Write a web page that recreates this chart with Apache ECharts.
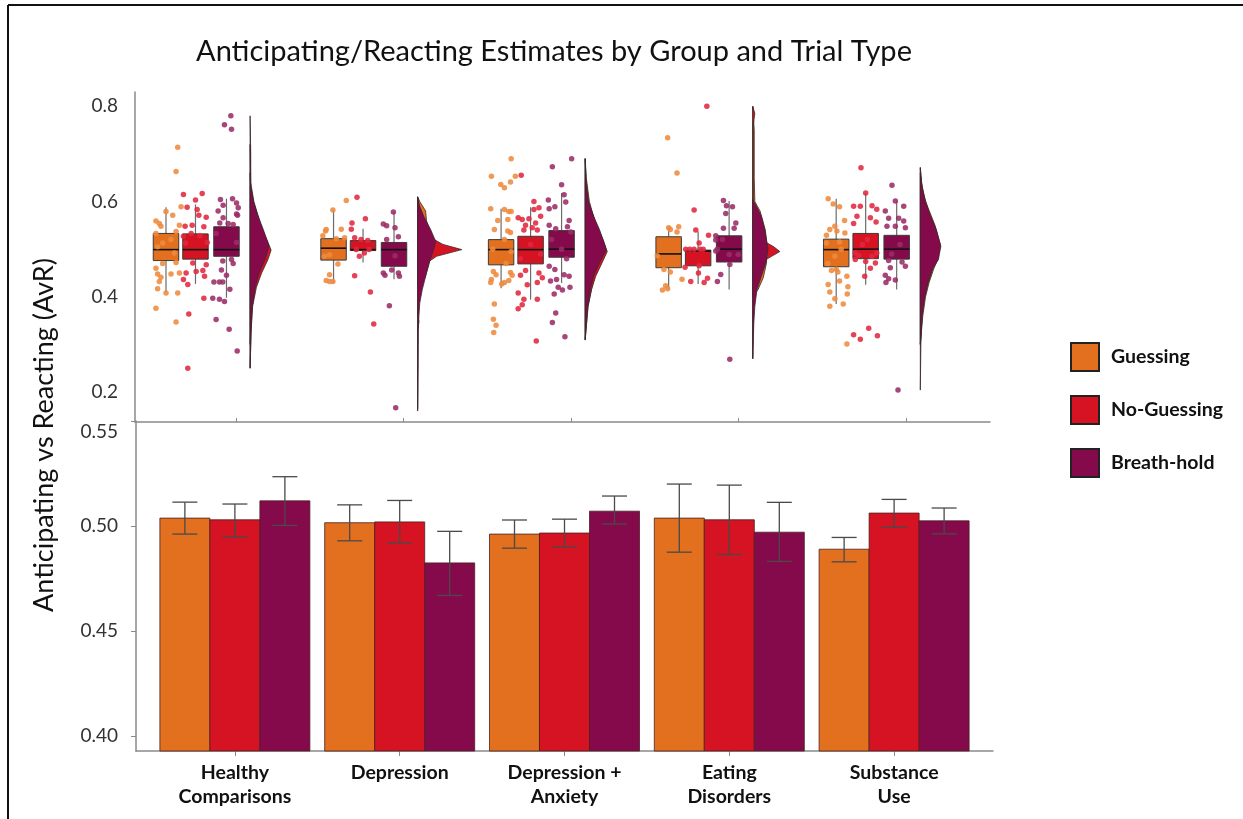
<!DOCTYPE html>
<html>
<head>
<meta charset="utf-8">
<script src="https://cdn.jsdelivr.net/npm/echarts@6/dist/echarts.min.js"></script>
<style>html,body{margin:0;padding:0;background:#fff}#c{width:1243px;height:819px}</style>
</head>
<body>
<div id="c"></div>
<script>
// ---------- DATA ----------
const groups = ['Healthy\nComparisons', 'Depression', 'Depression +\nAnxiety', 'Eating\nDisorders', 'Substance\nUse'];
const trialTypes = ['Guessing', 'No-Guessing', 'Breath-hold'];
const topTicks = [0.2, 0.4, 0.6, 0.8];
const bottomTicks = [0.40, 0.45, 0.50, 0.55];

// bottom panel: means and error-bar limits
const barGuessing   = [0.5038, 0.5016, 0.4962, 0.5038, 0.4890];
const barNoGuessing = [0.5030, 0.5020, 0.4967, 0.5030, 0.5062];
const barBreathHold = [0.5120, 0.4825, 0.5071, 0.4971, 0.5025];
const errGuessing   = [[0.4962, 0.5114], [0.4930, 0.5101], [0.4895, 0.5029], [0.4876, 0.5200], [0.4830, 0.4946]];
const errNoGuessing = [[0.4948, 0.5105], [0.4920, 0.5122], [0.4900, 0.5033], [0.4865, 0.5195], [0.4994, 0.5127]];
const errBreathHold = [[0.5003, 0.5235], [0.4670, 0.4975], [0.5010, 0.5143], [0.4832, 0.5113], [0.4963, 0.5086]];

// top panel: box stats [lower whisker, Q1, median, Q3, upper whisker]
const boxGuessing   = [[0.411, 0.476, 0.499, 0.533, 0.588], [0.430, 0.477, 0.502, 0.522, 0.582], [0.418, 0.467, 0.499, 0.520, 0.585], [0.415, 0.461, 0.490, 0.526, 0.547], [0.385, 0.463, 0.499, 0.521, 0.606]];
const boxNoGuessing = [[0.427, 0.479, 0.499, 0.532, 0.594], [0.472, 0.497, 0.499, 0.518, 0.543], [0.394, 0.469, 0.499, 0.527, 0.588], [0.427, 0.465, 0.496, 0.498, 0.537], [0.425, 0.480, 0.500, 0.533, 0.618]];
const boxBreathHold = [[0.398, 0.485, 0.499, 0.547, 0.606], [0.437, 0.464, 0.499, 0.514, 0.578], [0.429, 0.483, 0.500, 0.539, 0.618], [0.415, 0.473, 0.500, 0.528, 0.601], [0.415, 0.479, 0.500, 0.529, 0.601]];

// top panel: individual estimates [jitter, value]
const ptsGuessing = [
  [[0.07,0.714],[0.06,0.663],[0.09,0.589],[0.0,0.579],[0.04,0.571],[-0.06,0.559],[-0.04,0.554],[-0.03,0.548],[0.06,0.537],[-0.06,0.533],[0.08,0.55],[-0.02,0.513],[0.05,0.492],[-0.05,0.505],[0.03,0.52],[0.06,0.472],[-0.06,0.46],[-0.05,0.448],[0.03,0.448],[-0.03,0.441],[-0.04,0.432],[-0.05,0.417],[0.0,0.408],[0.07,0.408],[-0.06,0.376],[0.06,0.347],[0.08,0.45],[-0.02,0.47]],
  [[0.076,0.602],[-0.004,0.582],[-0.044,0.541],[-0.048,0.538],[0.046,0.542],[-0.064,0.528],[0.016,0.522],[0.066,0.524],[-0.024,0.488],[0.026,0.469],[-0.024,0.446],[-0.044,0.434],[-0.024,0.432],[-0.004,0.432],[-0.054,0.485]],
  [[0.06,0.69],[-0.058,0.653],[0.085,0.653],[-0.002,0.636],[0.056,0.641],[0.02,0.629],[-0.062,0.585],[0.02,0.583],[0.046,0.579],[0.06,0.579],[0.04,0.562],[-0.04,0.541],[0.04,0.538],[0.056,0.535],[0.02,0.52],[-0.046,0.453],[-0.03,0.446],[0.056,0.451],[-0.058,0.436],[0.02,0.43],[0.046,0.434],[0.004,0.427],[-0.062,0.43],[-0.04,0.385],[-0.046,0.353],[-0.03,0.34],[-0.044,0.325],[0.066,0.445],[0.06,0.495],[-0.02,0.56],[0.03,0.47],[-0.05,0.5]],
  [[-0.006,0.734],[0.05,0.66],[0.0,0.545],[0.06,0.547],[0.01,0.541],[0.05,0.536],[-0.028,0.457],[0.01,0.452],[0.08,0.437],[-0.018,0.423],[-0.006,0.417],[-0.037,0.414],[-0.068,0.486]],
  [[-0.048,0.606],[-0.018,0.595],[0.02,0.589],[-0.008,0.548],[-0.038,0.541],[0.004,0.538],[-0.058,0.529],[0.052,0.534],[0.02,0.515],[-0.058,0.513],[-0.008,0.485],[-0.028,0.455],[0.01,0.452],[0.064,0.443],[-0.048,0.426],[0.02,0.433],[0.07,0.421],[-0.038,0.41],[-0.008,0.396],[0.066,0.406],[0.042,0.385],[-0.038,0.38],[0.064,0.301],[0.0,0.458],[0.05,0.56],[-0.05,0.47],[0.03,0.5]]
];
const ptsNoGuessing = [
  [[-0.072,0.615],[0.04,0.617],[0.0,0.603],[-0.05,0.588],[0.01,0.583],[0.02,0.571],[0.064,0.567],[-0.062,0.548],[-0.02,0.55],[0.05,0.547],[-0.026,0.533],[0.026,0.528],[-0.06,0.513],[0.07,0.514],[-0.016,0.471],[-0.056,0.45],[0.004,0.453],[0.044,0.455],[0.054,0.443],[-0.072,0.436],[-0.046,0.426],[0.05,0.397],[-0.04,0.364],[-0.046,0.25],[0.064,0.467],[-0.072,0.527]],
  [[-0.036,0.609],[-0.066,0.555],[-0.07,0.542],[0.014,0.564],[-0.05,0.524],[-0.012,0.52],[0.028,0.518],[-0.022,0.485],[0.008,0.492],[-0.05,0.444],[0.044,0.41],[0.064,0.343],[0.036,0.499],[-0.04,0.499]],
  [[-0.056,0.655],[0.05,0.587],[0.02,0.583],[-0.074,0.566],[-0.05,0.562],[-0.01,0.564],[0.03,0.555],[0.06,0.569],[-0.03,0.55],[0.01,0.545],[0.04,0.54],[-0.04,0.54],[0.05,0.45],[-0.03,0.455],[-0.06,0.445],[0.04,0.43],[-0.02,0.425],[-0.074,0.408],[-0.04,0.395],[0.04,0.395],[-0.05,0.383],[-0.074,0.375],[0.034,0.307],[0.07,0.44],[0.0,0.51],[-0.06,0.48],[0.06,0.49],[0.02,0.6]],
  [[0.052,0.8],[-0.024,0.582],[-0.014,0.54],[0.062,0.529],[-0.074,0.5],[-0.05,0.5],[-0.024,0.5],[0.006,0.513],[0.012,0.5],[0.03,0.5],[-0.078,0.462],[0.002,0.45],[0.056,0.439],[-0.044,0.432],[0.036,0.43],[0.006,0.465]],
  [[-0.028,0.671],[0.0,0.618],[-0.072,0.59],[-0.032,0.59],[0.038,0.591],[0.066,0.584],[-0.052,0.569],[0.028,0.566],[-0.072,0.554],[0.062,0.557],[-0.042,0.487],[0.038,0.485],[-0.062,0.478],[0.058,0.471],[0.0,0.474],[0.028,0.46],[-0.006,0.443],[0.018,0.334],[-0.072,0.32],[0.07,0.318],[-0.032,0.311],[-0.062,0.492],[0.066,0.492],[0.01,0.52],[-0.02,0.51]]
];
const ptsBreathHold = [
  [[0.026,0.78],[-0.012,0.761],[0.03,0.752],[-0.036,0.604],[0.036,0.606],[0.06,0.597],[-0.02,0.592],[0.07,0.587],[-0.05,0.58],[0.06,0.574],[-0.02,0.566],[0.066,0.571],[-0.04,0.555],[0.01,0.554],[0.04,0.552],[-0.062,0.533],[0.06,0.514],[0.03,0.478],[-0.022,0.475],[0.04,0.47],[-0.03,0.456],[0.0,0.445],[-0.075,0.431],[-0.042,0.431],[-0.022,0.431],[0.02,0.416],[-0.082,0.397],[-0.042,0.395],[-0.012,0.39],[-0.062,0.352],[0.016,0.332],[0.064,0.286]],
  [[-0.004,0.578],[-0.064,0.553],[-0.044,0.549],[0.006,0.545],[0.026,0.526],[-0.044,0.52],[0.006,0.486],[-0.064,0.45],[-0.054,0.445],[0.026,0.45],[0.032,0.443],[-0.028,0.381],[0.01,0.167],[-0.014,0.456]],
  [[0.06,0.69],[-0.055,0.673],[0.0,0.635],[-0.079,0.603],[-0.074,0.585],[-0.04,0.589],[0.025,0.599],[0.015,0.614],[0.045,0.56],[-0.074,0.55],[0.035,0.547],[-0.035,0.543],[0.055,0.536],[-0.074,0.464],[-0.04,0.457],[0.015,0.446],[-0.03,0.436],[0.045,0.443],[-0.066,0.433],[-0.02,0.42],[0.05,0.42],[-0.044,0.406],[0.005,0.414],[-0.035,0.366],[-0.055,0.346],[0.02,0.316],[-0.06,0.52],[0.03,0.48],[0.0,0.5]],
  [[-0.034,0.602],[-0.016,0.591],[0.02,0.589],[-0.02,0.575],[0.04,0.555],[-0.034,0.544],[0.03,0.544],[-0.08,0.528],[-0.08,0.519],[-0.07,0.5],[-0.08,0.496],[0.0,0.489],[0.054,0.489],[0.004,0.468],[-0.05,0.447],[-0.07,0.432],[0.004,0.269],[-0.04,0.52]],
  [[-0.028,0.634],[-0.008,0.601],[0.042,0.59],[-0.068,0.58],[-0.048,0.565],[0.012,0.565],[0.042,0.559],[-0.058,0.548],[-0.008,0.548],[0.052,0.545],[-0.048,0.476],[0.032,0.473],[-0.068,0.445],[-0.048,0.438],[-0.008,0.435],[-0.064,0.43],[-0.038,0.461],[0.052,0.464],[0.008,0.204],[0.02,0.51],[-0.03,0.49]]
];

// top panel: half-violin density profiles [value, relative density]
const violinGuessing = [
  [[0.30,0],[0.36,0.05],[0.42,0.22],[0.45,0.40],[0.48,0.66],[0.50,0.80],[0.53,0.66],[0.56,0.45],[0.60,0.18],[0.64,0.03],[0.72,0]],
  [[0.42,0],[0.44,0.35],[0.47,0.55],[0.50,0.70],[0.53,0.62],[0.56,0.42],[0.58,0.38],[0.60,0.10],[0.61,0]],
  [[0.31,0],[0.38,0.14],[0.42,0.32],[0.45,0.50],[0.475,0.72],[0.50,0.85],[0.53,0.70],[0.56,0.45],[0.60,0.20],[0.65,0.05],[0.69,0]],
  [[0.40,0],[0.415,0.25],[0.44,0.50],[0.47,0.65],[0.50,0.70],[0.54,0.60],[0.58,0.35],[0.60,0.10],[0.65,0.07],[0.75,0.07],[0.80,0]],
  [[0.30,0],[0.36,0.12],[0.40,0.25],[0.43,0.42],[0.46,0.65],[0.48,0.85],[0.50,0.90],[0.54,0.70],[0.58,0.40],[0.62,0.12],[0.66,0]]
];
const violinNoGuessing = [
  [[0.25,0],[0.33,0.05],[0.38,0.12],[0.42,0.30],[0.45,0.55],[0.478,0.85],[0.498,1.0],[0.52,0.80],[0.55,0.50],[0.60,0.15],[0.63,0.03],[0.66,0]],
  [[0.16,0],[0.33,0.01],[0.348,0.06],[0.36,0.01],[0.44,0.05],[0.47,0.40],[0.485,0.90],[0.499,2.10],[0.51,1.20],[0.525,0.60],[0.54,0.30],[0.56,0.10],[0.60,0.03],[0.61,0]],
  [[0.31,0],[0.38,0.13],[0.415,0.30],[0.443,0.50],[0.471,0.80],[0.495,1.05],[0.52,0.85],[0.55,0.55],[0.60,0.15],[0.65,0.03],[0.69,0]],
  [[0.27,0],[0.45,0.02],[0.47,0.30],[0.485,0.90],[0.495,1.29],[0.505,1.0],[0.52,0.40],[0.54,0.10],[0.56,0.02],[0.76,0.02],[0.785,0.10],[0.80,0]],
  [[0.30,0],[0.33,0.05],[0.36,0.08],[0.40,0.20],[0.43,0.38],[0.46,0.60],[0.49,0.85],[0.51,0.95],[0.55,0.70],[0.60,0.25],[0.64,0.05],[0.67,0]]
];
const violinBreathHold = [
  [[0.25,0],[0.30,0.03],[0.33,0.05],[0.38,0.10],[0.42,0.24],[0.45,0.43],[0.478,0.71],[0.506,0.90],[0.541,0.63],[0.576,0.32],[0.60,0.16],[0.632,0.03],[0.70,0.03],[0.78,0]],
  [[0.165,0],[0.25,0.02],[0.33,0.03],[0.36,0.06],[0.387,0.10],[0.415,0.22],[0.443,0.38],[0.471,0.54],[0.499,0.76],[0.516,0.86],[0.541,0.62],[0.569,0.29],[0.59,0.10],[0.608,0]],
  [[0.309,0],[0.345,0.04],[0.38,0.11],[0.415,0.24],[0.443,0.40],[0.471,0.68],[0.499,1.0],[0.513,0.90],[0.541,0.68],[0.569,0.40],[0.597,0.16],[0.632,0.05],[0.69,0]],
  [[0.27,0],[0.345,0.05],[0.38,0.10],[0.415,0.20],[0.443,0.41],[0.471,0.62],[0.50,0.73],[0.513,0.68],[0.541,0.57],[0.569,0.41],[0.59,0.17],[0.604,0]],
  [[0.204,0],[0.305,0.03],[0.359,0.08],[0.394,0.19],[0.429,0.35],[0.457,0.56],[0.478,0.86],[0.506,0.98],[0.541,0.76],[0.569,0.48],[0.597,0.24],[0.632,0.08],[0.672,0]]
];

// ---------- STYLE ----------
const FONT = 'Lato, "Open Sans", sans-serif';
const COLORS = ['#E2701E', '#D51322', '#850A4B'];
const POINT_COLORS = ['#EE8A3D', '#E0283F', '#9A2C66'];
const BAR_W = 0.3034;             // x-units (bottom panel)
const BOX_OFFSET = [-0.418, -0.242, -0.057];
const BOX_W = 0.152;
const VIOLIN_OFFSET = 0.084;
const VIOLIN_SCALE = 0.1254;
const Y2_MIN = 0.393;
const TICK_FONT = 19;

const bars = [barGuessing, barNoGuessing, barBreathHold];
const errs = [errGuessing, errNoGuessing, errBreathHold];
const boxes = [boxGuessing, boxNoGuessing, boxBreathHold];
const pts = [ptsGuessing, ptsNoGuessing, ptsBreathHold];
const violins = [violinGuessing, violinNoGuessing, violinBreathHold];

const series = [];

// bottom bars with error bars
trialTypes.forEach((name, t) => {
  series.push({
    name: name, type: 'custom', xAxisIndex: 1, yAxisIndex: 1,
    itemStyle: { color: COLORS[t] },
    encode: { x: 0, y: 1 },
    data: groups.map((g, i) => [i + 1, bars[t][i], errs[t][i][0], errs[t][i][1]]),
    renderItem: function (params, api) {
      const gi = api.value(0), v = api.value(1), lo = api.value(2), hi = api.value(3);
      const cx = gi + (t - 1) * BAR_W;
      const tl = api.coord([cx - BAR_W / 2, v]);
      const br = api.coord([cx + BAR_W / 2, Y2_MIN]);
      const c = api.coord([cx, lo]);
      const c2 = api.coord([cx, hi]);
      const cap = 12.5;
      const ls = { stroke: '#4a4a4a', lineWidth: 1.3 };
      return {
        type: 'group', children: [
          { type: 'rect', shape: { x: tl[0], y: tl[1], width: br[0] - tl[0], height: br[1] - tl[1] },
            style: { fill: COLORS[t], stroke: '#4a2020', lineWidth: 0.8 } },
          { type: 'line', shape: { x1: c[0], y1: c[1], x2: c2[0], y2: c2[1] }, style: ls },
          { type: 'line', shape: { x1: c[0] - cap, y1: c[1], x2: c[0] + cap, y2: c[1] }, style: ls },
          { type: 'line', shape: { x1: c2[0] - cap, y1: c2[1], x2: c2[0] + cap, y2: c2[1] }, style: ls }
        ]
      };
    }
  });
});

// top violins
trialTypes.forEach((name, t) => {
  series.push({
    name: name, type: 'custom', xAxisIndex: 0, yAxisIndex: 0,
    itemStyle: { color: COLORS[t] },
    encode: { x: 0, y: 1 },
    data: groups.map((g, i) => [i + 1, 0.5]),
    renderItem: function (params, api) {
      const gi = api.value(0);
      const prof = violins[t][params.dataIndex];
      const base = gi + VIOLIN_OFFSET;
      const poly = [api.coord([base, prof[0][0]])];
      prof.forEach(p => poly.push(api.coord([base + p[1] * VIOLIN_SCALE, p[0]])));
      poly.push(api.coord([base, prof[prof.length - 1][0]]));
      return { type: 'polygon', shape: { points: poly },
        style: { fill: COLORS[t], stroke: '#3a2a2a', lineWidth: 0.8 } };
    }
  });
});

// top boxes
trialTypes.forEach((name, t) => {
  series.push({
    name: name, type: 'custom', xAxisIndex: 0, yAxisIndex: 0,
    itemStyle: { color: COLORS[t] },
    encode: { x: 0, y: [1, 2, 3, 4, 5] },
    data: groups.map((g, i) => [i + 1].concat(boxes[t][i])),
    renderItem: function (params, api) {
      const gi = api.value(0);
      const cx = gi + BOX_OFFSET[t];
      const wl = api.coord([cx, api.value(1)]);
      const q1 = api.coord([cx - BOX_W / 2, api.value(2)]);
      const md = api.coord([cx, api.value(3)]);
      const q3 = api.coord([cx + BOX_W / 2, api.value(4)]);
      const wh = api.coord([cx, api.value(5)]);
      const half = (q3[0] - q1[0]) / 2;
      return {
        type: 'group', children: [
          { type: 'line', shape: { x1: wl[0], y1: wl[1], x2: wh[0], y2: wh[1] }, style: { stroke: '#6b6b6b', lineWidth: 1.2 } },
          { type: 'rect', shape: { x: q1[0], y: q3[1], width: q3[0] - q1[0], height: q1[1] - q3[1] },
            style: { fill: COLORS[t], stroke: '#3a3a3a', lineWidth: 1 } },
          { type: 'line', shape: { x1: md[0] - half, y1: md[1], x2: md[0] + half, y2: md[1] }, style: { stroke: '#111', lineWidth: 1.6 } }
        ]
      };
    }
  });
});

// top points
trialTypes.forEach((name, t) => {
  const data = [];
  pts[t].forEach((arr, i) => arr.forEach(p => data.push([i + 1 + BOX_OFFSET[t] + p[0], p[1]])));
  series.push({
    name: name, type: 'scatter', xAxisIndex: 0, yAxisIndex: 0,
    symbolSize: 5.5, data: data,
    itemStyle: { color: POINT_COLORS[t], opacity: 0.88 }
  });
});

const chart = echarts.init(document.getElementById('c'), null, { renderer: 'canvas' });
chart.setOption({
  backgroundColor: '#fff',
  animation: false,
  legend: {
    data: trialTypes, orient: 'vertical', left: 1070, top: 342,
    icon: 'rect', itemWidth: 28, itemHeight: 28, itemGap: 23, padding: 0,
    itemStyle: { borderColor: '#222', borderWidth: 2 },
    textStyle: { fontFamily: FONT, fontWeight: 'bold', fontSize: 19.5, color: '#111', padding: [0, 0, 0, 7] },
    selectedMode: false
  },
  grid: [
    { left: 135, right: 253, top: 92, height: 330 },
    { left: 136, right: 250, top: 421, height: 330 }
  ],
  xAxis: [
    { gridIndex: 0, type: 'value', min: 0.397, max: 5.5,
      axisLine: { show: true, onZero: false, lineStyle: { color: '#8a8a8a', width: 1.5 } },
      axisTick: { show: true, inside: true, length: 4, customValues: [1, 2, 3, 4, 5], lineStyle: { color: '#8a8a8a' } },
      axisLabel: { show: false }, splitLine: { show: false } },
    { gridIndex: 1, type: 'value', min: 0.4, max: 5.6,
      axisLine: { show: true, onZero: false, lineStyle: { color: '#8a8a8a', width: 1.5 } },
      axisTick: { show: true, length: 5, customValues: [1, 2, 3, 4, 5], lineStyle: { color: '#8a8a8a' } },
      axisLabel: { customValues: [1, 2, 3, 4, 5], formatter: v => groups[Math.round(v) - 1],
        fontFamily: FONT, fontWeight: 'bold', fontSize: 19.5, color: '#111', lineHeight: 24, margin: 10 },
      splitLine: { show: false } }
  ],
  yAxis: [
    { gridIndex: 0, type: 'value', min: 0.137, max: 0.83,
      axisLine: { show: true, onZero: false, lineStyle: { color: '#8a8a8a', width: 1.5 } },
      axisTick: { show: false },
      axisLabel: { customValues: topTicks, formatter: v => v.toFixed(1), fontFamily: FONT, fontSize: TICK_FONT, color: '#333', margin: 17 },
      splitLine: { show: false } },
    { gridIndex: 1, type: 'value', min: Y2_MIN, max: 0.55,
      axisLine: { show: true, onZero: false, lineStyle: { color: '#8a8a8a', width: 1.5 } },
      axisTick: { show: true, length: 5, customValues: bottomTicks, lineStyle: { color: '#8a8a8a' } },
      axisLabel: { customValues: bottomTicks,
        formatter: v => (Math.abs(v - 0.55) < 1e-6 ? '{t|' + v.toFixed(2) + '}' : v.toFixed(2)),
        rich: { t: { fontFamily: FONT, fontSize: TICK_FONT, color: '#333', padding: [22, 0, 0, 0] } },
        fontFamily: FONT, fontSize: TICK_FONT, color: '#333', margin: 18 },
      splitLine: { show: false } }
  ],
  graphic: [
    { type: 'line', shape: { x1: 8, y1: 5, x2: 1243, y2: 5 }, style: { stroke: '#111', lineWidth: 2 } },
    { type: 'line', shape: { x1: 8, y1: 5, x2: 8, y2: 819 }, style: { stroke: '#111', lineWidth: 2 } },
    { type: 'text', x: 554, y: 52, style: { text: 'Anticipating/Reacting Estimates by Group and Trial Type',
        fontFamily: FONT, fontSize: 29, fill: '#111', textAlign: 'center', textVerticalAlign: 'middle' } },
    { type: 'text', x: 44, y: 435, rotation: Math.PI / 2, style: { text: 'Anticipating vs Reacting (AvR)',
        fontFamily: FONT, fontSize: 27, fill: '#111', textAlign: 'center', textVerticalAlign: 'middle' } }
  ],
  series: series
});
</script>
</body>
</html>
